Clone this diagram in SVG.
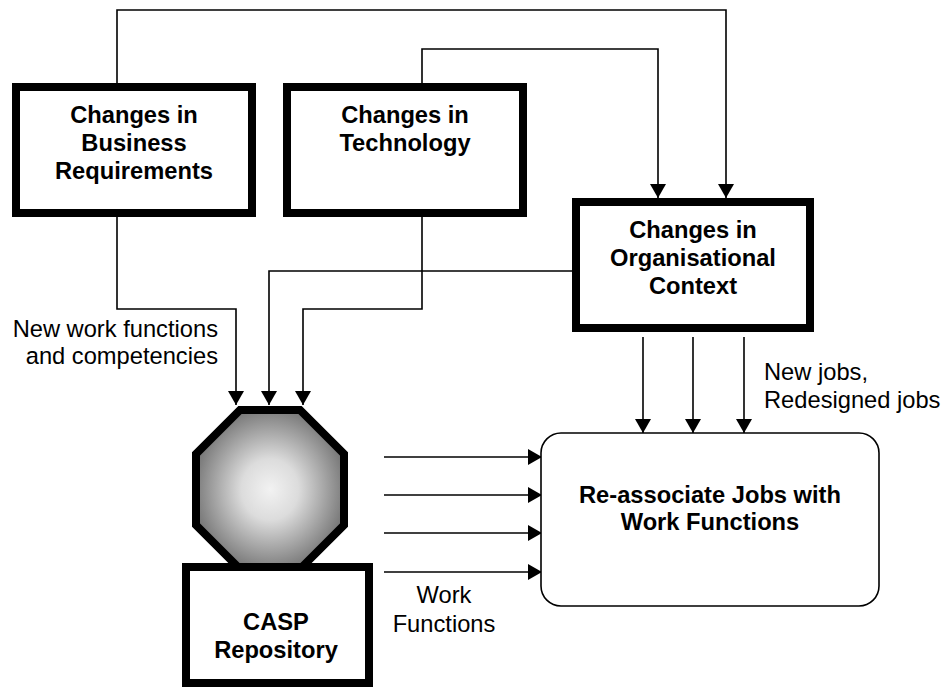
<svg xmlns="http://www.w3.org/2000/svg" width="945" height="688" viewBox="0 0 945 688">
  <style>
    .box { fill: #fff; stroke: #000; stroke-width: 8; }
    .proc { fill: #fff; stroke: #000; stroke-width: 1.6; }
    .bold { font-family: "Liberation Sans", Arial, sans-serif; font-weight: bold; font-size: 23.7px; fill: #000; text-anchor: middle; }
    .label { font-family: "Liberation Sans", Arial, sans-serif; font-size: 23.7px; fill: #000; }
    .wire { fill: none; stroke: #000; stroke-width: 1.6; marker-end: url(#arrow); }
  </style>
  <defs>
    <marker id="arrow" markerUnits="userSpaceOnUse" markerWidth="16" markerHeight="16" viewBox="0 0 14 16" refX="14" refY="8" orient="auto">
      <path d="M0,0 L14,8 L0,16 Z" fill="#000"/>
    </marker>
    <radialGradient id="octFill" cx="50%" cy="50%" r="55%">
      <stop offset="0" stop-color="#f2f2f2"/>
      <stop offset="0.35" stop-color="#dcdcdc"/>
      <stop offset="1" stop-color="#6e6e6e"/>
    </radialGradient>
  </defs>

  <!-- connectors -->
  <g id="connectors">
    <!-- business requirements -> organisational context -->
    <polyline class="wire" points="117,83 117,10 726,10 726,198"/>
    <!-- technology -> organisational context -->
    <polyline class="wire" points="422,83 422,49 658,49 658,198"/>
    <!-- business requirements -> competency hub -->
    <polyline class="wire" points="117,217 117,309 236,309 236,405"/>
    <!-- organisational context -> competency hub -->
    <polyline class="wire" points="572,271 269,271 269,405"/>
    <!-- technology -> competency hub -->
    <polyline class="wire" points="422,217 422,309 303,309 303,405"/>
    <!-- organisational context -> re-associate -->
    <line class="wire" x1="643" y1="337" x2="643" y2="433"/>
    <line class="wire" x1="693" y1="337" x2="693" y2="433"/>
    <line class="wire" x1="744" y1="337" x2="744" y2="433"/>
    <!-- work functions -> re-associate -->
    <line class="wire" x1="384" y1="457" x2="542" y2="457"/>
    <line class="wire" x1="384" y1="495" x2="542" y2="495"/>
    <line class="wire" x1="384" y1="533" x2="542" y2="533"/>
    <line class="wire" x1="384" y1="572" x2="542" y2="572"/>
  </g>

  <g id="business">
    <rect class="box" x="16" y="87" width="236" height="126"/>
    <text class="bold" x="134" y="123">Changes in</text>
    <text class="bold" x="134" y="151">Business</text>
    <text class="bold" x="134" y="179">Requirements</text>
  </g>

  <g id="technology">
    <rect class="box" x="287" y="87" width="236" height="126"/>
    <text class="bold" x="405" y="123">Changes in</text>
    <text class="bold" x="405" y="151">Technology</text>
  </g>

  <g id="organisation">
    <rect class="box" x="576" y="202" width="234" height="126"/>
    <text class="bold" x="693" y="238">Changes in</text>
    <text class="bold" x="693" y="266">Organisational</text>
    <text class="bold" x="693" y="294">Context</text>
  </g>

  <g id="hub">
    <polygon points="240,410 300,410 344,454 344,525 300,569 240,569 196,525 196,454" fill="url(#octFill)" stroke="#000" stroke-width="8"/>
  </g>

  <g id="repository">
    <rect class="box" x="186" y="567" width="183" height="116"/>
    <text class="bold" x="276" y="630">CASP</text>
    <text class="bold" x="276" y="658">Repository</text>
  </g>

  <g id="reassociate">
    <rect class="proc" x="541" y="433" width="338" height="173" rx="20" ry="20"/>
    <text class="bold" x="710" y="503">Re-associate Jobs with</text>
    <text class="bold" x="710" y="530">Work Functions</text>
  </g>

  <g id="labels">
    <text class="label" x="218" y="337" text-anchor="end">New work functions</text>
    <text class="label" x="218" y="364" text-anchor="end">and competencies</text>
    <text class="label" x="764" y="380">New jobs,</text>
    <text class="label" x="764" y="408">Redesigned jobs</text>
    <text class="label" x="444" y="603" text-anchor="middle">Work</text>
    <text class="label" x="444" y="632" text-anchor="middle">Functions</text>
  </g>
</svg>
